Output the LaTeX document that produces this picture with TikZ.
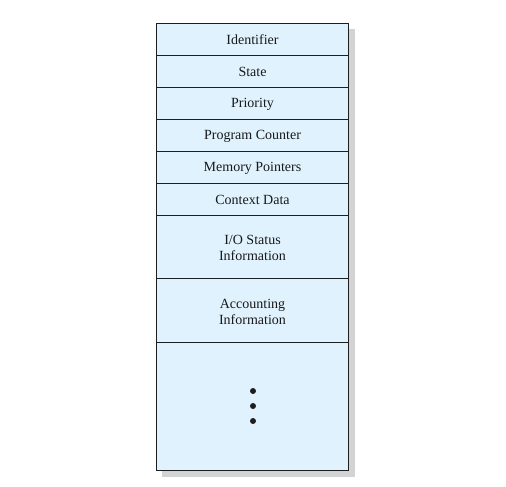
\documentclass[tikz,border=0pt]{standalone}
\usepackage{fontspec}
\setmainfont{Liberation Serif}
\definecolor{cellfill}{HTML}{E0F2FD}
\definecolor{shadowgray}{HTML}{D2D3D5}
\definecolor{edge}{HTML}{1E1E1E}
\begin{document}
\begin{tikzpicture}[x=1pt,y=-1pt,
  cell/.style={draw=edge,line width=1pt,fill=cellfill},
  lbl/.style={font=\fontsize{14}{16}\selectfont,align=center,text=black!90,inner sep=0pt},
  dot/.style={circle,fill=edge,inner sep=0pt,minimum size=6pt}]
\useasboundingbox (0,0) rectangle (506,487);
\fill[shadowgray] (162,29) rectangle (355,477);
\node[cell,minimum width=192pt,minimum height=32pt,anchor=north west] (r1) at (156,23) {};
\node[cell,minimum width=192pt,minimum height=32pt,anchor=north west] (r2) at (156,55) {};
\node[cell,minimum width=192pt,minimum height=32pt,anchor=north west] (r3) at (156,87) {};
\node[cell,minimum width=192pt,minimum height=32pt,anchor=north west] (r4) at (156,119) {};
\node[cell,minimum width=192pt,minimum height=32pt,anchor=north west] (r5) at (156,151) {};
\node[cell,minimum width=192pt,minimum height=32pt,anchor=north west] (r6) at (156,183) {};
\node[cell,minimum width=192pt,minimum height=63pt,anchor=north west] (r7) at (156,215) {};
\node[cell,minimum width=192pt,minimum height=64pt,anchor=north west] (r8) at (156,278) {};
\node[cell,minimum width=192pt,minimum height=128pt,anchor=north west] (r9) at (156,342) {};
\node[lbl] (t1) at ([yshift=-0.5pt]r1.center) {Identifier};
\node[lbl] (t2) at ([yshift=-0.5pt]r2.center) {State};
\node[lbl] (t3) at ([yshift=-0.5pt]r3.center) {Priority};
\node[lbl] (t4) at ([yshift=-0.5pt]r4.center) {Program Counter};
\node[lbl] (t5) at ([yshift=-0.5pt]r5.center) {Memory Pointers};
\node[lbl] (t6) at ([yshift=-0.5pt]r6.center) {Context Data};
\node[lbl] (t7) at ([yshift=-0.5pt]r7.center) {I/O Status\\Information};
\node[lbl] (t8) at ([yshift=-1.5pt]r8.center) {Accounting\\Information};
\node[dot] (d1) at (253,391) {};
\node[dot] (d2) at (253,406) {};
\node[dot] (d3) at (253,421) {};
\end{tikzpicture}
\end{document}
